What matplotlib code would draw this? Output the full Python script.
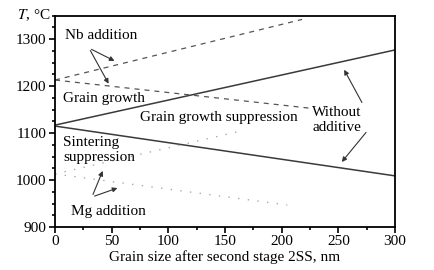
import matplotlib.pyplot as plt
from matplotlib.ticker import MultipleLocator

plt.rcParams['font.family'] = ['Liberation Serif', 'DejaVu Serif']
plt.rcParams['mathtext.fontset'] = 'stix'
plt.rcParams['font.size'] = 11

# grain size (nm) and temperature (C) at line ends
x_without = [0, 300]
t_without_up = [1117, 1277]
t_without_down = [1115, 1009]

x_nb_up = [0, 218]
t_nb_up = [1213, 1342]
x_nb_down = [0, 225]
t_nb_down = [1213, 1153]

x_mg_up = [0, 165]
t_mg_up = [1013, 1105]
x_mg_down = [0, 205]
t_mg_down = [1013, 947]

fig = plt.figure(figsize=(4.35, 2.7), dpi=100)
ax = fig.add_axes([0.1264, 0.159, 0.7816, 0.783])

ax.plot(x_without, t_without_up, color='#3a3a3a', lw=1.1)
ax.plot(x_without, t_without_down, color='#3a3a3a', lw=1.1)
ax.plot(x_nb_up, t_nb_up, color='#555555', lw=0.9, ls=(0, (4, 4)))
ax.plot(x_nb_down, t_nb_down, color='#555555', lw=0.9, ls=(0, (4, 4)))
ax.plot(x_mg_up, t_mg_up, color='#aaaaaa', lw=1.0, ls=(0, (1, 6)))
ax.plot(x_mg_down, t_mg_down, color='#aaaaaa', lw=1.0, ls=(0, (1, 6)))

ax.set_xlim(0, 300)
ax.set_ylim(900, 1350)
ax.xaxis.set_major_locator(MultipleLocator(50))
ax.xaxis.set_minor_locator(MultipleLocator(25))
ax.yaxis.set_major_locator(MultipleLocator(100))
ax.yaxis.set_minor_locator(MultipleLocator(25))
ax.tick_params(which='both', direction='out', width=1.2, pad=2)
ax.tick_params(which='major', length=4)
ax.tick_params(which='minor', length=2.5)
for s in ax.spines.values():
    s.set_linewidth(1.3)

ax.set_xlabel('Grain size after second stage 2SS, nm', labelpad=1)
fig.text(0.04, 0.942, r'$T$, °C', va='center', ha='left')

arr = dict(arrowstyle='-|>', color='#333333', lw=0.8, mutation_scale=7)

ax.text(8.8, 1308, 'Nb addition', va='center')
ax.annotate('', xy=(54.7, 1251), xytext=(30, 1281), arrowprops=arr)
ax.annotate('', xy=(48.5, 1200), xytext=(30, 1281), arrowprops=arr)

ax.text(7, 1174, 'Grain growth', va='center')
ax.text(75, 1134, 'Grain growth suppression', va='center')

ax.text(227, 1128, 'Without\nadditive', va='center', ha='left', linespacing=1.2)
ax.annotate('', xy=(254, 1240), xytext=(272, 1160), arrowprops=arr)
ax.annotate('', xy=(251.5, 1034), xytext=(276, 1106), arrowprops=arr)

ax.text(7, 1064, 'Sintering\nsuppression', va='center', ha='left', linespacing=1.2)
ax.text(14, 934, 'Mg addition', va='center')
ax.annotate('', xy=(43, 1025), xytext=(32.6, 964), arrowprops=arr)
ax.annotate('', xy=(57.4, 985), xytext=(32.6, 964), arrowprops=arr)

fig.savefig('out.png', dpi=100)
